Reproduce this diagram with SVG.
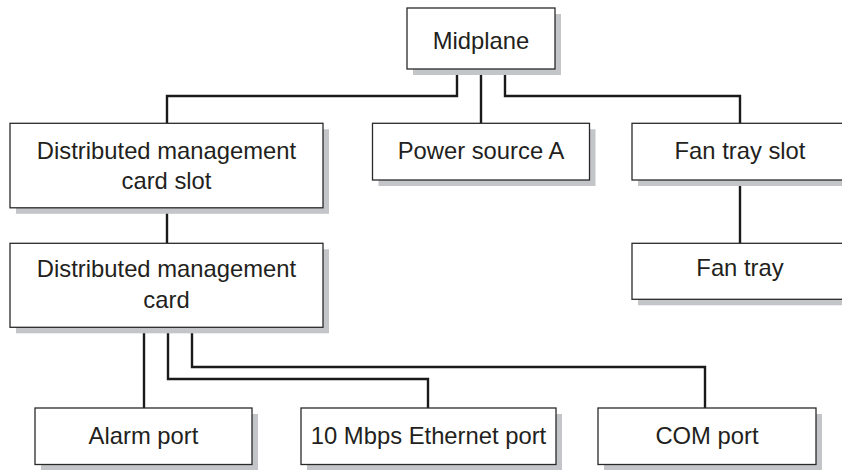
<svg xmlns="http://www.w3.org/2000/svg" width="842" height="470" viewBox="0 0 842 470">
<style>
.sh{fill:#c4c5c9;stroke:none}
.bx{fill:#fff;stroke:#2a2a2a;stroke-width:1.3}
.t{font-family:"Liberation Sans",Arial,Helvetica,sans-serif;font-size:23.8px;fill:#231f20;text-anchor:middle}
.c{fill:none;stroke:#1a1a1a;stroke-width:2.4;stroke-linejoin:miter}
</style>
<rect width="842" height="470" fill="#fff"/>
<g id="connectors">
<path class="c" d="M457 69 V96 H167 V123"/>
<path class="c" d="M481 69 V123"/>
<path class="c" d="M505 69 V96 H740 V123"/>
<path class="c" d="M167 208 V243"/>
<path class="c" d="M740 180 V243"/>
<path class="c" d="M144 327 V408"/>
<path class="c" d="M168 327 V379 H428 V408"/>
<path class="c" d="M192 327 V367 H705 V408"/>
</g>
<g id="midplane">
<rect class="sh" x="413" y="14" width="148" height="61"/>
<rect class="bx" x="407" y="8" width="148" height="61"/>
<text class="t" x="481" y="48.5">Midplane</text>
</g>
<g id="dmc-slot">
<rect class="sh" x="16" y="129.3" width="313" height="84.5"/>
<rect class="bx" x="10" y="123.3" width="313" height="84.5"/>
<text class="t" x="166.5" y="158.5">Distributed management</text>
<text class="t" x="166.5" y="189">card slot</text>
</g>
<g id="power-source-a">
<rect class="sh" x="378.5" y="129.3" width="217" height="56.7"/>
<rect class="bx" x="372.5" y="123.3" width="217" height="56.7"/>
<text class="t" x="481" y="159">Power source A</text>
</g>
<g id="fan-tray-slot">
<rect class="sh" x="638" y="129.3" width="220" height="56.7"/>
<rect class="bx" x="632" y="123.3" width="220" height="56.7"/>
<text class="t" x="740" y="158.5">Fan tray slot</text>
</g>
<g id="fan-tray">
<rect class="sh" x="638" y="249.3" width="220" height="56"/>
<rect class="bx" x="632" y="243.3" width="220" height="56"/>
<text class="t" x="740" y="276">Fan tray</text>
</g>
<g id="dmc">
<rect class="sh" x="16" y="249.3" width="313" height="84"/>
<rect class="bx" x="10" y="243.3" width="313" height="84"/>
<text class="t" x="166.5" y="277">Distributed management</text>
<text class="t" x="166.5" y="307.5">card</text>
</g>
<g id="alarm-port">
<rect class="sh" x="41" y="414" width="217" height="56.5"/>
<rect class="bx" x="35" y="408" width="217" height="56.5"/>
<text class="t" x="143.5" y="444">Alarm port</text>
</g>
<g id="ethernet-port">
<rect class="sh" x="307" y="414" width="255" height="56.5"/>
<rect class="bx" x="301" y="408" width="255" height="56.5"/>
<text class="t" x="428.5" y="444">10 Mbps Ethernet port</text>
</g>
<g id="com-port">
<rect class="sh" x="604" y="414" width="218" height="56.5"/>
<rect class="bx" x="598" y="408" width="218" height="56.5"/>
<text class="t" x="707" y="444">COM port</text>
</g>
</svg>
